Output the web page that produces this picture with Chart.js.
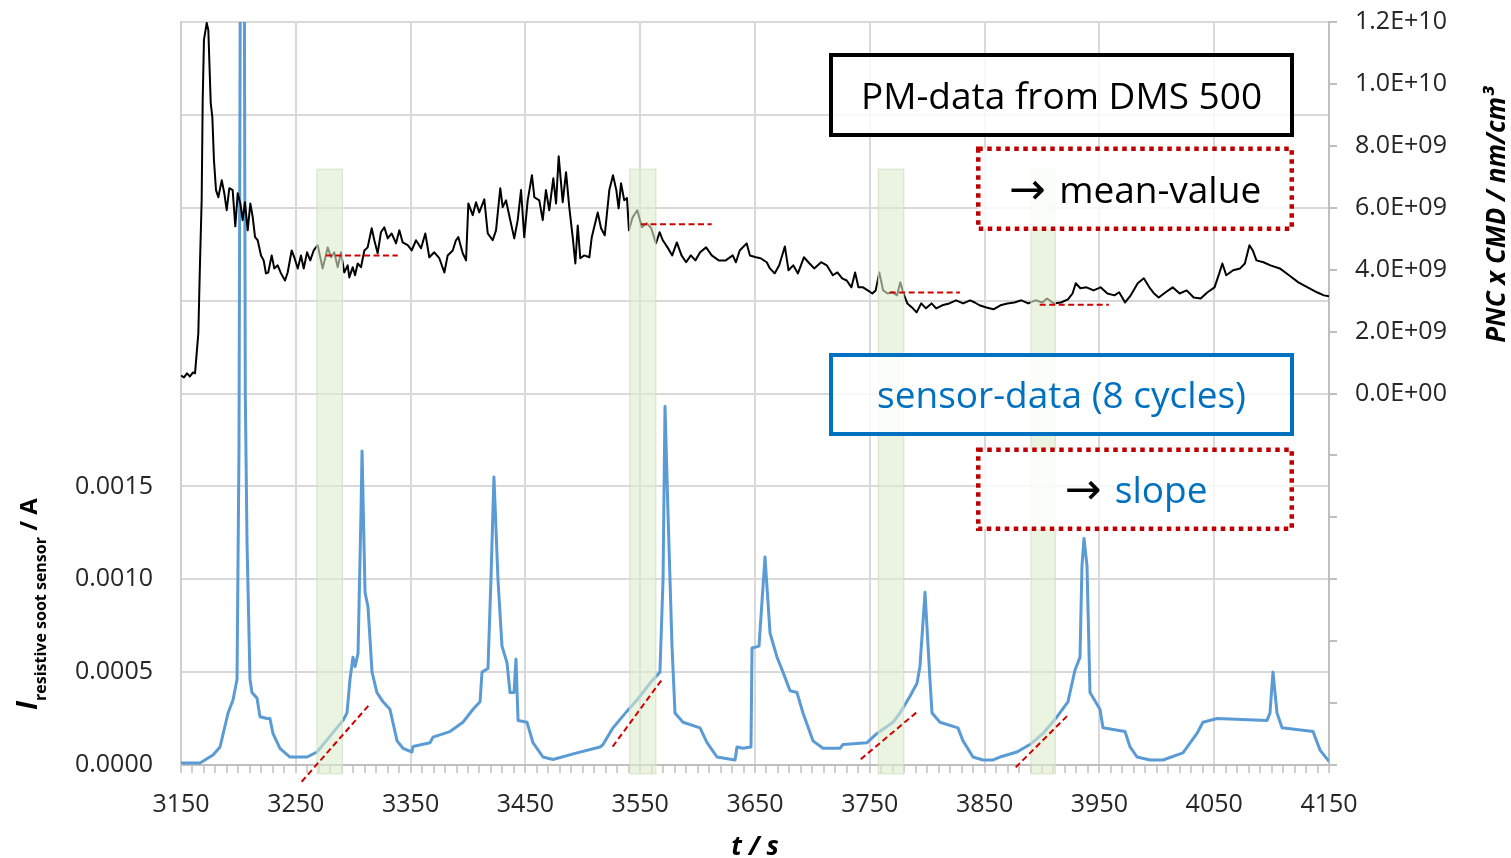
<!DOCTYPE html>
<html><head><meta charset="utf-8">
<script src="https://cdn.jsdelivr.net/npm/chart.js@4.4.1/dist/chart.umd.min.js"></script>
<style>html,body{margin:0;padding:0;background:#fff;overflow:hidden}#wrap{width:1511px;height:858px;position:relative}</style>
</head><body><div id="wrap"><canvas id="c"></canvas></div>
<script>
// ---- DMS 500 data: time (s) and PNC x CMD (in units of 1E+09 nm/cm^3)
const pmTime = [3150.0,3152.6,3155.2,3157.8,3160.5,3162.2,3165.1,3166.6,3168.0,3168.9,3170.0,3172.4,3173.8,3175.9,3177.3,3178.7,3180.5,3182.5,3185.5,3187.7,3189.8,3192.1,3195.0,3197.3,3199.4,3201.7,3203.7,3205.7,3208.1,3210.4,3212.5,3214.5,3216.8,3219.7,3222.0,3224.0,3226.0,3229.0,3231.3,3234.2,3237.1,3240.6,3242.9,3246.4,3248.7,3251.7,3254.5,3256.9,3259.8,3262.6,3265.6,3269.1,3273.4,3277.8,3280.7,3283.5,3286.5,3289.4,3292.2,3295.2,3296.6,3299.6,3301.6,3303.9,3306.8,3309.7,3312.6,3316.1,3318.4,3321.3,3324.2,3327.1,3330.1,3333.5,3337.3,3340.2,3343.1,3347.5,3351.0,3354.7,3359.1,3362.8,3366.3,3370.6,3375.0,3379.4,3382.3,3386.7,3389.5,3391.6,3395.4,3398.3,3400.3,3404.1,3407.0,3409.8,3414.2,3417.2,3421.5,3424.4,3428.1,3430.2,3433.1,3436.8,3440.3,3443.3,3446.2,3449.0,3452.0,3455.7,3457.8,3462.1,3465.1,3467.9,3470.8,3474.3,3476.7,3479.0,3482.5,3485.4,3488.2,3491.2,3493.5,3495.6,3497.8,3501.3,3505.7,3507.8,3513.0,3515.9,3519.1,3523.1,3526.3,3529.2,3531.2,3533.3,3536.1,3538.5,3540.2,3543.4,3547.4,3551.5,3555.6,3559.6,3563.7,3566.9,3569.7,3573.8,3577.9,3581.9,3586.0,3590.0,3594.1,3598.1,3602.2,3607.4,3612.3,3618.4,3624.5,3630.6,3633.4,3636.7,3642.7,3645.6,3650.9,3654.9,3660.2,3663.0,3667.1,3671.1,3676.0,3679.2,3683.3,3687.4,3692.6,3697.5,3701.6,3707.6,3712.5,3717.8,3721.8,3725.9,3729.9,3734.0,3737.2,3740.1,3744.1,3748.2,3752.2,3755.1,3758.3,3761.6,3765.6,3769.7,3773.7,3776.6,3779.4,3782.7,3786.7,3790.8,3794.8,3798.9,3803.8,3807.8,3813.1,3819.2,3825.2,3831.3,3837.4,3841.5,3845.5,3851.6,3857.7,3863.8,3869.9,3875.9,3882.0,3888.1,3894.2,3900.3,3904.3,3910.4,3916.5,3922.6,3926.6,3929.4,3933.4,3938.8,3944.9,3951.0,3957.0,3963.1,3967.2,3972.4,3977.3,3983.4,3988.7,3993.5,3997.6,4001.7,4007.7,4013.8,4019.9,4026.0,4032.1,4038.2,4044.2,4050.3,4054.4,4057.1,4060.5,4066.5,4072.6,4076.7,4080.7,4083.6,4086.8,4092.9,4099.0,4107.1,4115.2,4123.3,4131.4,4139.5,4145.6,4150.0];
const pmValueE9 = [0.58,0.52,0.65,0.55,0.68,0.65,1.94,4.30,6.24,9.48,11.42,11.97,11.74,9.38,8.93,7.54,6.57,6.34,6.89,6.47,5.92,6.63,6.57,5.40,6.47,6.14,5.60,6.18,5.27,6.14,5.69,5.05,4.95,4.46,4.30,3.88,3.91,4.46,4.04,4.14,3.88,3.65,3.91,4.62,4.40,4.04,4.46,4.04,4.56,4.30,4.62,4.79,4.04,4.72,4.40,4.56,4.08,4.56,3.91,4.14,3.75,4.08,3.82,4.20,4.08,4.62,4.72,5.34,4.95,4.53,5.21,5.37,5.01,5.17,4.85,5.27,4.88,4.79,4.62,4.95,4.69,5.17,4.40,4.56,4.37,3.91,4.46,4.62,4.95,5.05,4.53,4.30,6.14,5.76,6.18,5.85,6.27,5.17,4.95,5.27,6.63,6.02,6.24,5.60,5.01,5.60,6.57,5.05,6.24,7.05,6.34,6.24,5.60,6.57,5.92,6.95,6.14,7.66,6.18,7.15,6.02,5.05,4.20,5.43,4.37,4.46,4.40,5.05,5.85,5.34,5.11,6.57,7.05,6.57,5.98,6.79,6.24,6.31,5.27,5.69,5.92,5.37,5.50,5.34,4.85,5.21,4.95,4.72,4.46,4.88,4.46,4.24,4.46,4.30,4.56,4.72,4.46,4.30,4.30,4.46,4.24,4.62,4.85,4.46,4.40,4.37,4.24,4.04,3.88,4.14,4.75,3.98,4.14,3.88,4.40,4.20,4.04,4.24,4.14,3.82,3.91,3.72,3.65,3.43,3.91,3.43,3.43,3.33,3.23,3.33,3.91,3.33,3.23,3.27,3.17,3.59,3.23,2.91,2.78,2.62,2.91,2.75,2.91,2.75,2.85,2.91,3.01,2.91,3.01,2.94,2.85,2.78,2.72,2.85,2.91,2.94,3.01,2.91,3.01,2.94,3.07,2.91,2.94,3.04,3.23,3.56,3.40,3.43,3.33,3.43,3.23,3.17,3.27,2.94,3.17,3.56,3.72,3.43,3.23,3.10,3.27,3.43,3.23,3.33,3.10,3.07,3.27,3.43,3.88,4.20,3.82,3.98,4.04,4.20,4.79,4.62,4.30,4.24,4.14,4.04,3.82,3.59,3.43,3.27,3.17,3.14];

// ---- resistive soot sensor: time (s) and current (mA)
const sensorTime = [3150.0,3166.6,3177.9,3184.0,3191.0,3195.3,3198.8,3200.5,3202.5,3204.5,3206.0,3207.5,3210.1,3211.8,3216.2,3218.8,3224.9,3227.5,3230.1,3236.2,3244.9,3259.8,3268.5,3291.1,3294.6,3297.2,3299.8,3301.6,3304.2,3306.8,3307.7,3310.3,3312.9,3316.4,3320.7,3326.0,3332.0,3338.2,3343.4,3351.2,3352.1,3366.9,3369.5,3384.3,3395.6,3404.4,3410.5,3412.2,3417.4,3420.0,3422.6,3426.1,3429.6,3434.0,3436.6,3440.1,3441.8,3443.6,3451.4,3456.6,3465.3,3474.0,3494.9,3515.0,3517.6,3526.3,3538.5,3547.2,3558.5,3567.2,3569.9,3571.6,3574.2,3577.7,3580.3,3587.3,3602.1,3608.2,3616.9,3632.6,3634.3,3639.5,3646.5,3647.4,3653.5,3658.7,3663.1,3669.2,3674.4,3680.5,3686.6,3691.8,3700.5,3709.2,3724.0,3726.7,3747.6,3756.3,3770.2,3776.3,3785.0,3791.1,3793.7,3798.1,3802.4,3804.2,3811.1,3826.8,3831.2,3839.9,3848.6,3857.3,3863.4,3878.2,3889.5,3900.9,3913.1,3922.6,3928.7,3933.1,3934.8,3936.6,3939.2,3941.8,3950.5,3953.1,3972.3,3976.7,3982.8,3994.1,4005.4,4022.8,4035.0,4040.2,4052.4,4096.0,4098.6,4101.2,4104.7,4109.1,4136.1,4142.2,4149.1,4150.0];
const sensorCurrent_mA = [0.011,0.011,0.054,0.097,0.28,0.35,0.46,1.70,6.0,6.0,2.0,1.2,0.46,0.39,0.36,0.26,0.25,0.25,0.17,0.09,0.043,0.043,0.07,0.24,0.28,0.46,0.58,0.53,0.60,1.36,1.69,0.93,0.85,0.50,0.39,0.34,0.30,0.13,0.09,0.07,0.10,0.12,0.15,0.18,0.23,0.30,0.34,0.50,0.52,1.00,1.55,1.00,0.64,0.55,0.39,0.39,0.57,0.24,0.23,0.12,0.043,0.03,0.065,0.097,0.11,0.20,0.29,0.35,0.44,0.50,1.00,1.93,1.36,0.64,0.28,0.23,0.20,0.12,0.043,0.027,0.097,0.09,0.097,0.63,0.64,1.12,0.71,0.58,0.50,0.40,0.39,0.28,0.13,0.09,0.09,0.11,0.12,0.17,0.23,0.28,0.37,0.44,0.53,0.93,0.46,0.28,0.23,0.20,0.13,0.043,0.027,0.027,0.043,0.07,0.11,0.17,0.26,0.34,0.51,0.58,1.07,1.22,1.07,0.39,0.30,0.20,0.18,0.097,0.043,0.027,0.027,0.065,0.17,0.23,0.25,0.24,0.28,0.50,0.28,0.20,0.18,0.08,0.027,0.02];

// ---- evaluation windows (s)
const bandStart = [3268, 3540.5, 3757, 3890];
const bandEnd   = [3291, 3564, 3780, 3912];

// ---- mean values of PM data (1E+09 nm/cm^3)
const meanStart   = [3276.3, 3550.7, 3767.3, 3898.0];
const meanEnd     = [3338.8, 3612.3, 3828.5, 3958.2];
const meanValueE9 = [4.46, 5.47, 3.26, 2.87];

// ---- slope lines of sensor data (s, mA)
const slopeT0 = [3255.1, 3526.0, 3742.1, 3877.1];
const slopeI0 = [-0.090, 0.099, 0.031, -0.0125];
const slopeT1 = [3313.8, 3568.7, 3792.2, 3922.9];
const slopeI1 = [0.323, 0.458, 0.291, 0.270];

// ---- axes
const xMin = 3150, xMax = 4150, xMajorStep = 100, xMinorStep = 10;
const yMin = 0, yMax = 0.004, yStep = 0.0005, yLabelMax = 0.0015;
const y2Min = -1.2e10, y2Max = 1.2e10, y2Step = 2e9;

const FONT = "'Open Sans', 'DejaVu Sans', sans-serif";
Chart.defaults.font.family = FONT;

function isMajor(v){ const r = ((v - xMin) % xMajorStep + xMajorStep) % xMajorStep; return r < 1e-6 || xMajorStep - r < 1e-6; }
function fmtE(v){
  if (Math.abs(v) < 1) return '0.0E+00';
  const e = Math.floor(Math.log10(Math.abs(v)) + 1e-9);
  const m = v / Math.pow(10, e);
  return m.toFixed(1) + 'E+' + String(e).padStart(2, '0');
}
function noPad(s){ s.paddingTop = 0; s.paddingBottom = 0; s.paddingLeft = 0; s.paddingRight = 0; }

const red = '#d00000';
const datasets = [];
for (let i = 0; i < meanStart.length; i++) {
  datasets.push({ data: [{x: meanStart[i], y: meanValueE9[i]*1e9}, {x: meanEnd[i], y: meanValueE9[i]*1e9}],
    yAxisID: 'y2', borderColor: red, borderWidth: 2, borderDash: [6, 3.5], pointRadius: 0, order: 0, clip: false });
}
for (let i = 0; i < slopeT0.length; i++) {
  datasets.push({ data: [{x: slopeT0[i], y: slopeI0[i]/1000}, {x: slopeT1[i], y: slopeI1[i]/1000}],
    yAxisID: 'y', borderColor: red, borderWidth: 2, borderDash: [6, 3.5], pointRadius: 0, order: 0, clip: false });
}
datasets.push({ tag: 'pm', data: pmTime.map((t, i) => ({x: t, y: pmValueE9[i]*1e9})), yAxisID: 'y2',
  borderColor: '#000', borderWidth: 2, pointRadius: 0, tension: 0, borderJoinStyle: 'round', order: 1 });
datasets.push({ tag: 'sensor', data: sensorTime.map((t, i) => ({x: t, y: sensorCurrent_mA[i]/1000})), yAxisID: 'y',
  borderColor: '#5B9BD5', borderWidth: 3, pointRadius: 0, tension: 0, borderJoinStyle: 'round', order: 2 });

const bandPlugin = {
  id: 'bands',
  afterDatasetDraw(chart, args) {
    if (chart.data.datasets[args.index].tag !== 'pm') return;
    const ctx = chart.ctx, xs = chart.scales.x, ys = chart.scales.y;
    const top = ys.getPixelForValue(0.00321), bot = ys.getPixelForValue(-0.00005);
    ctx.save();
    for (let i = 0; i < bandStart.length; i++) {
      const x0 = xs.getPixelForValue(bandStart[i]), x1 = xs.getPixelForValue(bandEnd[i]);
      ctx.fillStyle = 'rgba(220,237,205,0.6)';
      ctx.fillRect(x0, top, x1 - x0, bot - top);
      ctx.strokeStyle = 'rgba(205,220,195,0.7)';
      ctx.lineWidth = 1;
      ctx.strokeRect(x0 + 0.5, top + 0.5, x1 - x0 - 1, bot - top - 1);
    }
    ctx.restore();
  }
};

const annotPlugin = {
  id: 'annot',
  afterDraw(chart) {
    const ctx = chart.ctx;
    const ca = chart.chartArea;
    ctx.save();
    function box(x, y, w, h, color, lw, dash) {
      ctx.fillStyle = 'rgba(255,255,255,0.82)';
      ctx.fillRect(x, y, w, h);
      ctx.setLineDash(dash || []);
      ctx.lineWidth = lw; ctx.strokeStyle = color; ctx.lineCap = 'butt';
      ctx.strokeRect(x, y, w, h);
      ctx.setLineDash([]);
    }
    box(831, 55, 461, 80, '#000', 4);
    box(978.25, 148.75, 313.5, 80, '#c00000', 4.5, [4.5, 4.5]);
    box(831, 355, 461, 79, '#0070C0', 4);
    box(978.25, 449.75, 313.5, 79, '#c00000', 4.5, [4.5, 4.5]);

    const TXT = "37px " + FONT, ARW = "44px 'DejaVu Sans', sans-serif";
    ctx.textBaseline = 'alphabetic';
    ctx.textAlign = 'center';
    ctx.font = TXT;
    ctx.fillStyle = '#000';
    ctx.fillText('PM-data from DMS 500', 1061.5, 108.5);
    ctx.fillStyle = '#0070C0';
    ctx.fillText('sensor-data (8 cycles)', 1061.5, 408);

    // arrow + word, centred in a box
    function arrowLine(word, cx, base, color) {
      ctx.textAlign = 'left';
      ctx.font = ARW; const wa = ctx.measureText('\u2192').width;
      ctx.font = TXT; const wsp = ctx.measureText(' ').width * 1.4, ww = ctx.measureText(word).width;
      const sx = cx - (wa + wsp + ww) / 2;
      ctx.font = ARW; ctx.fillStyle = '#000'; ctx.fillText('\u2192', sx, base + 1);
      ctx.font = TXT; ctx.fillStyle = color; ctx.fillText(word, sx + wa + wsp, base);
    }
    arrowLine('mean-value', 1135, 202.5, '#000');
    arrowLine('slope', 1136, 503, '#0070C0');

    // x axis title
    ctx.fillStyle = '#000';
    ctx.textAlign = 'center';
    ctx.font = "italic bold 26px " + FONT;
    ctx.fillText('t / s', (ca.left + ca.right) / 2, 855);

    // right axis title
    ctx.save();
    ctx.translate(1505, 215);
    ctx.rotate(-Math.PI / 2);
    ctx.font = "italic bold 26px " + FONT;
    ctx.textAlign = 'center';
    ctx.fillText('PNC x CMD / nm/cm\u00B3', 0, 0);
    ctx.restore();

    // left axis title with subscript
    ctx.save();
    ctx.translate(37, 604);
    ctx.rotate(-Math.PI / 2);
    ctx.textAlign = 'left';
    const parts = [
      {t: 'I', f: "italic bold 28px " + FONT, dy: 0},
      {t: 'resistive soot sensor', f: "bold 16px " + FONT, dy: 9},
      {t: ' / A', f: "bold 24px " + FONT, dy: 0}
    ];
    let total = 0;
    parts.forEach(p => { ctx.font = p.f; p.w = ctx.measureText(p.t).width; total += p.w; });
    let px = -total / 2;
    parts.forEach(p => { ctx.font = p.f; ctx.fillText(p.t, px, p.dy); px += p.w; });
    ctx.restore();

    ctx.restore();
  }
};

new Chart(document.getElementById('c'), {
  type: 'line',
  data: { datasets },
  options: {
    responsive: true, maintainAspectRatio: false, animation: false, events: [],
    layout: { padding: { top: 22, left: 0, right: 0, bottom: 0 } },
    plugins: { legend: { display: false }, tooltip: { enabled: false } },
    scales: {
      x: {
        type: 'linear', min: xMin, max: xMax,
        afterBuildTicks: s => { const t = []; for (let v = xMin; v <= xMax; v += xMinorStep) t.push({value: v}); s.ticks = t; },
        afterFit: s => { s.height = 93; noPad(s); },
        grid: { color: c => (c.tick && isMajor(c.tick.value)) ? '#d9d9d9' : 'rgba(0,0,0,0)', lineWidth: 2,
                tickColor: '#bfbfbf', tickLength: 8, tickWidth: 1.5 },
        border: { color: '#bfbfbf', width: 2 },
        ticks: { autoSkip: false, maxRotation: 0, minRotation: 0, padding: 17, color: '#262626',
                 font: { size: 25 }, callback: v => isMajor(v) ? String(Math.round(v)) : '' }
      },
      y: {
        position: 'left', min: yMin, max: yMax,
        afterFit: s => { s.width = 181; noPad(s); },
        grid: { color: '#d9d9d9', lineWidth: 2, drawTicks: false },
        border: { color: '#cfcfcf', width: 2 },
        ticks: { stepSize: yStep, padding: 28, color: '#262626', font: { size: 25 },
                 callback: v => (v <= yLabelMax + 1e-9) ? v.toFixed(4) : '' }
      },
      y2: {
        position: 'right', min: y2Min, max: y2Max,
        afterFit: s => { s.width = 182; noPad(s); },
        grid: { drawOnChartArea: false, tickLength: 8, tickColor: '#bfbfbf', lineWidth: 2 },
        border: { color: '#bfbfbf', width: 2 },
        ticks: { stepSize: y2Step, padding: 18, color: '#262626', font: { size: 25 },
                 callback: v => (v >= -1) ? fmtE(v) : '' }
      }
    }
  },
  plugins: [bandPlugin, annotPlugin]
});
</script>
</body></html>
